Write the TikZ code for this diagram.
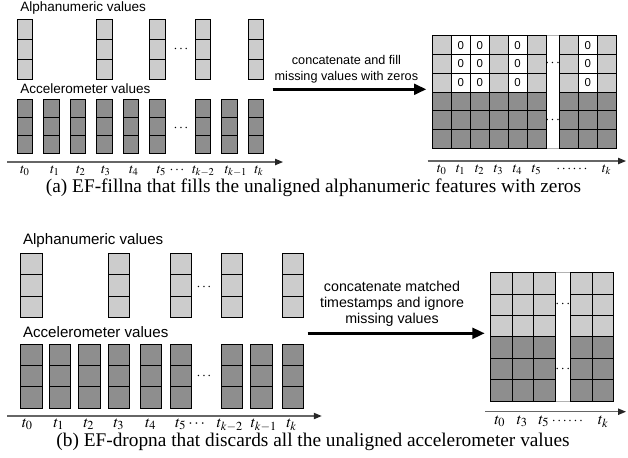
\documentclass[tikz,border=0pt]{standalone}
\usepackage{mathptmx}
\usepackage{fontspec}
\setmainfont{Liberation Serif}
\setsansfont{Liberation Sans}
\usetikzlibrary{arrows.meta,positioning}
\definecolor{alphagray}{HTML}{CCCCCC}
\definecolor{accgray}{HTML}{8E8E8E}

\begin{document}
\begin{tikzpicture}[
  cell/.style={rectangle, draw, line width=0.5pt, fill=#1, inner sep=0pt},
  acell/.style={cell=#1, minimum width=0.31cm},
  mcellA/.style={cell=#1, minimum width=0.379cm, minimum height=0.375cm},
  bcell/.style={cell=#1, minimum width=0.43cm},
  mcellB/.style={cell=#1, minimum width=0.428cm, minimum height=0.428cm},
  zero/.style={mcellA=white, font=\sffamily\fontsize{6.5}{7}\selectfont},
  gapcol/.style={rectangle, draw=black!30, line width=0.4pt, fill=white, inner sep=0pt},
  grpA/.style={anchor=west, inner sep=0pt, font=\sffamily\fontsize{7.7}{9}\selectfont},
  grpB/.style={anchor=west, inner sep=0pt, font=\sffamily\fontsize{8.6}{10}\selectfont},
  stepA/.style={align=center, inner sep=0pt, font=\sffamily\fontsize{7.2}{8.9}\selectfont},
  stepB/.style={align=center, inner sep=0pt, font=\sffamily\fontsize{8.1}{9.1}\selectfont},
  tickA/.style={anchor=base, inner sep=0pt, font=\fontsize{8}{9}\selectfont},
  tickB/.style={anchor=base, inner sep=0pt, font=\fontsize{9}{10}\selectfont},
  dotsA/.style={inner sep=0pt, font=\fontsize{8}{9}\selectfont},
  axis/.style={draw=black!60, line width=0.6pt, -{Triangle[length=4.5pt, width=3.6pt, color=black!85]}},
  bigarr/.style={line width=1.7pt, -{Triangle[length=7pt, width=6pt]}},
  caption/.style={inner sep=0pt, font=\fontsize{11}{13}\selectfont}
]
  \useasboundingbox (0,0) rectangle (12.56,-9.14);

  % ---------- (a) EF-fillna ----------
  \node[grpA] (alphaA) at (0.4,-0.16) {Alphanumeric values};
  \node[grpA] (accA) at (0.4,-1.78) {Accelerometer values};

  % alphanumeric columns, only at some timestamps
  \foreach \x [count=\i] in {0.5,2.09,3.15,4.06,5.12}
    \foreach \r in {1,2,3}
      \node[acell=alphagray, minimum height=0.4cm] (aal\i\r) at (\x,-0.186-0.4*\r) {};
  % accelerometer columns, every timestamp
  \foreach \x [count=\i] in {0.5,1.03,1.56,2.09,2.62,3.15,4.06,4.59,5.12}
    \foreach \r in {1,2,3}
      \node[acell=accgray, minimum height=0.36cm] (aac\i\r) at (\x,-1.806-0.36*\r) {};
  \node[dotsA] (adots1) at (3.62,-0.99) {$\cdots$};
  \node[dotsA] (adots2) at (3.62,-2.57) {$\cdots$};

  \coordinate (axA0) at (0.14,-3.24);
  \coordinate (axA1) at (5.66,-3.24);
  \draw[axis] (axA0) -- (axA1);
  \foreach \x/\t [count=\i] in {0.5/t_0,1.1/t_1,1.62/t_2,2.12/t_3,2.68/t_4,3.23/t_5,3.54/\cdots,4.07/t_{k-2},4.72/t_{k-1},5.18/t_k}
    \node[tickA] (atk\i) at (\x,-3.46) {$\t$};

  % merged matrix: white gap first, cells on top
  \node[gapcol, minimum width=0.266cm, minimum height=2.252cm] (gapA) at (11.053,-1.84) {};
  \foreach \x [count=\i] in {8.836,9.973,10.731,11.376,12.134}
    \foreach \r in {1,2,3}
      \node[mcellA=alphagray] (mal\i\r) at (\x,-0.526-0.3753*\r) {};
  \foreach \x [count=\i] in {9.215,9.594,10.352,11.755}
    \foreach \r in {1,2,3}
      \node[zero] (mz\i\r) at (\x,-0.526-0.3753*\r) {0};
  \foreach \x [count=\i] in {8.836,9.215,9.594,9.973,10.352,10.731,11.376,11.755,12.134}
    \foreach \r in {4,5,6}
      \node[mcellA=accgray] (mac\i\r) at (\x,-0.526-0.3753*\r) {};
  \node[dotsA] (mdots1) at (gapA |- mal12) {$\cdots$};
  \node[dotsA] (mdots2) at (gapA |- mac15) {$\cdots$};

  \coordinate (axM0) at (8.554,-3.22);
  \coordinate (axM1) at (12.52,-3.22);
  \draw[axis] (axM0) -- (axM1);
  \foreach \x/\t [count=\i] in {8.836/t_0,9.215/t_1,9.594/t_2,9.973/t_3,10.352/t_4,10.731/t_5,11.44/\cdots\cdots,12.134/t_k}
    \node[tickA] (mtk\i) at (\x,-3.45) {$\t$};

  \coordinate (srcA) at (5.454,-1.786);
  \draw[bigarr, shorten >=0.11cm] (srcA) -- node[stepA, pos=0.463, above=0.1cm] {concatenate and fill\\missing values with zeros} (srcA -| mal11.west);

  \node[caption] (capA) at (6.27,-3.75) {(a) EF-fillna that fills the unaligned alphanumeric features with zeros};

  % ---------- (b) EF-dropna ----------
  \node[grpB] (alphaB) at (0.454,-4.814) {Alphanumeric values};
  \node[grpB] (accB) at (0.454,-6.634) {Accelerometer values};

  \foreach \x [count=\i] in {0.629,2.38,3.615,4.635,5.86}
    \foreach \r in {1,2,3}
      \node[bcell=alphagray, minimum height=0.427cm] (bal\i\r) at (\x,-4.8525-0.427*\r) {};
  \foreach \x [count=\i] in {0.629,1.2,1.789,2.38,3.015,3.615,4.635,5.229,5.86}
    \foreach \r in {1,2,3}
      \node[bcell=accgray, minimum height=0.4287cm] (bac\i\r) at (\x,-6.6657-0.4287*\r) {};
  \node[dotsA] (bdots1) at (4.08,-5.746) {$\cdots$};
  \node[dotsA] (bdots2) at (4.08,-7.534) {$\cdots$};

  \coordinate (axB0) at (0.14,-8.32);
  \coordinate (axB1) at (6.434,-8.32);
  \draw[axis] (axB0) -- (axB1);
  \foreach \x/\t [count=\i] in {0.55/t_0,1.18/t_1,1.78/t_2,2.38/t_3,3.016/t_4,3.616/t_5,3.934/\cdots,4.6/t_{k-2},5.28/t_{k-1},5.834/t_k}
    \node[tickB] (btk\i) at (\x,-8.54) {$\t$};

  \node[gapcol, minimum width=0.314cm, minimum height=2.566cm] (gapB) at (11.257,-6.737) {};
  \foreach \x [count=\i] in {10.028,10.457,10.886,11.628,12.056}
    \foreach \r in {1,2,3}
      \node[mcellB=alphagray] (nal\i\r) at (\x,-5.2402-0.4277*\r) {};
  \foreach \x [count=\i] in {10.028,10.457,10.886,11.628,12.056}
    \foreach \r in {4,5,6}
      \node[mcellB=accgray] (nac\i\r) at (\x,-5.2402-0.4277*\r) {};
  \node[dotsA] (ndots1) at (gapB |- nal12) {$\cdots$};
  \node[dotsA] (ndots2) at (gapB |- nac15) {$\cdots$};

  \coordinate (axN0) at (9.70,-8.234);
  \coordinate (axN1) at (12.52,-8.234);
  \draw[axis] (axN0) -- (axN1);
  \foreach \x/\t [count=\i] in {10.0/t_0,10.446/t_3,10.88/t_5,12.066/t_k}
    \node[tickB] (ntk\i) at (\x,-8.48) {$\t$};
  \node[tickA] (ntk5) at (11.35,-8.48) {$\cdots\cdots$};

  \coordinate (srcB) at (6.154,-6.666);
  \draw[bigarr, shorten >=0.11cm] (srcB) -- node[stepB, pos=0.462, above=0.1cm] {concatenate matched\\timestamps and ignore\\missing values} (srcB -| nal11.west);

  \node[caption] (capB) at (6.26,-8.84) {(b) EF-dropna that discards all the unaligned accelerometer values};
\end{tikzpicture}
\end{document}
